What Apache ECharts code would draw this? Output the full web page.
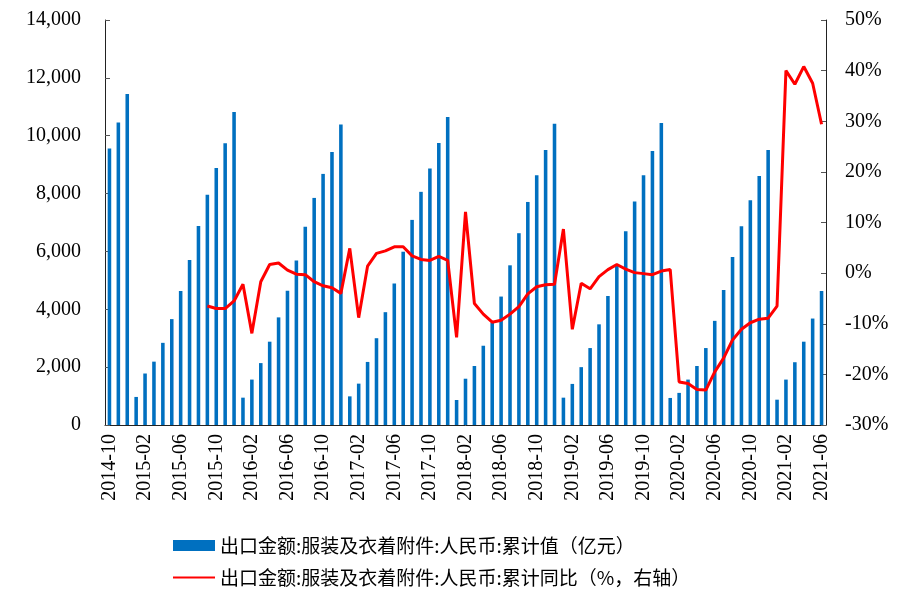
<!DOCTYPE html>
<html>
<head>
<meta charset="utf-8">
<script src="https://cdn.jsdelivr.net/npm/echarts@6/dist/echarts.min.js"></script>
<style>html,body{margin:0;padding:0;background:#fff;}#c{width:917px;height:605px;}</style>
</head>
<body>
<div id="c"></div>
<script>
var categories = [
"2014-10","2014-11","2014-12",
"2015-01","2015-02","2015-03","2015-04","2015-05","2015-06","2015-07","2015-08","2015-09","2015-10","2015-11","2015-12",
"2016-01","2016-02","2016-03","2016-04","2016-05","2016-06","2016-07","2016-08","2016-09","2016-10","2016-11","2016-12",
"2017-01","2017-02","2017-03","2017-04","2017-05","2017-06","2017-07","2017-08","2017-09","2017-10","2017-11","2017-12",
"2018-01","2018-02","2018-03","2018-04","2018-05","2018-06","2018-07","2018-08","2018-09","2018-10","2018-11","2018-12",
"2019-01","2019-02","2019-03","2019-04","2019-05","2019-06","2019-07","2019-08","2019-09","2019-10","2019-11","2019-12",
"2020-01","2020-02","2020-03","2020-04","2020-05","2020-06","2020-07","2020-08","2020-09","2020-10","2020-11","2020-12",
"2021-01","2021-02","2021-03","2021-04","2021-05","2021-06"
];
var exportValue = [
9560,10460,11440,
970,1780,2190,2840,3660,4630,5700,6880,7960,8880,9740,10820,
945,1570,2140,2880,3720,4640,5690,6850,7850,8680,9440,10390,
990,1430,2180,3000,3900,4890,5990,7090,8060,8870,9750,10650,
865,1600,2040,2740,3540,4440,5520,6630,7710,8630,9510,10410,
945,1420,2000,2660,3480,4460,5510,6700,7730,8630,9470,10440,
935,1110,1570,2040,2660,3600,4670,5810,6870,7770,8610,9510,
875,1570,2170,2880,3680,4630
];
var exportYoY = [
null,null,null,
null,null,null,null,null,null,null,null,-6.5,-7.0,-7.0,-5.5,
-2.2,-11.9,-1.7,1.7,2.0,0.6,-0.2,-0.3,-1.7,-2.5,-2.9,-4.0,
4.9,-8.8,1.4,3.9,4.4,5.2,5.2,3.4,2.7,2.5,3.3,2.5,
-12.7,12.1,-6.0,-8.1,-9.7,-9.3,-8.1,-6.6,-4.1,-2.7,-2.3,-2.2,
8.7,-11.1,-2.0,-3.1,-0.7,0.7,1.7,0.8,0.1,-0.1,-0.3,0.4,
0.7,-21.5,-21.8,-23.0,-23.1,-19.5,-16.8,-13.2,-11.1,-9.8,-9.1,-8.9,
-6.5,40.0,37.3,40.8,37.5,29.4
];
var seriesNames = [
"出口金额:服装及衣着附件:人民币:累计值（亿元）",
"出口金额:服装及衣着附件:人民币:累计同比（%，右轴）"
];

var serif = "'Liberation Serif','Times New Roman',serif";
var axisColor = '#222';
var chart = echarts.init(document.getElementById('c'), null, {renderer:'canvas'});
chart.setOption({
  animation: false,
  backgroundColor: '#fff',
  grid: {left: 105, right: 91, top: 20, bottom: 180, containLabel: false},
  legend: {
    orient: 'vertical',
    left: 167,
    top: 531,
    itemWidth: 42,
    itemHeight: 11,
    itemGap: 13,
    textStyle: {fontFamily: "'Noto Sans CJK SC'", fontSize: 19, color: '#000'},
    data: [
      {name: seriesNames[0], icon: 'rect'},
      {name: seriesNames[1], itemStyle: {opacity: 0}}
    ]
  },
  xAxis: {
    type: 'category',
    data: categories,
    boundaryGap: true,
    axisLine: {lineStyle: {color: axisColor, width: 1}},
    axisTick: {inside: true, interval: 3, length: 5, lineStyle: {color: '#555'}},
    axisLabel: {interval: 3, rotate: 90, fontFamily: serif, fontSize: 20, color: '#000', margin: 9}
  },
  yAxis: [
    {
      type: 'value', min: 0, max: 14000, interval: 2000,
      splitLine: {show: false},
      axisLine: {show: true, lineStyle: {color: axisColor}},
      axisTick: {show: true, inside: true, length: 5, lineStyle: {color: '#555'}},
      axisLabel: {fontFamily: serif, fontSize: 20, color: '#000', margin: 24,
        formatter: function(v){ return v.toLocaleString('en-US'); }}
    },
    {
      type: 'value', min: -30, max: 50, interval: 10,
      splitLine: {show: false},
      axisLine: {show: true, lineStyle: {color: axisColor}},
      axisTick: {show: true, inside: true, length: 5, lineStyle: {color: '#555'}},
      axisLabel: {fontFamily: serif, fontSize: 20, color: '#000', margin: 19, formatter: '{value}%'}
    }
  ],
  series: [
    {
      name: seriesNames[0],
      type: 'bar',
      yAxisIndex: 0,
      data: exportValue,
      barWidth: '40%',
      itemStyle: {color: '#0070C0'}
    },
    {
      name: seriesNames[1],
      type: 'line',
      yAxisIndex: 1,
      data: exportYoY,
      showSymbol: false,
      symbol: 'none',
      connectNulls: false,
      lineStyle: {color: '#FF0000', width: 3},
      itemStyle: {color: '#FF0000'}
    }
  ]
});
</script>
</body>
</html>
